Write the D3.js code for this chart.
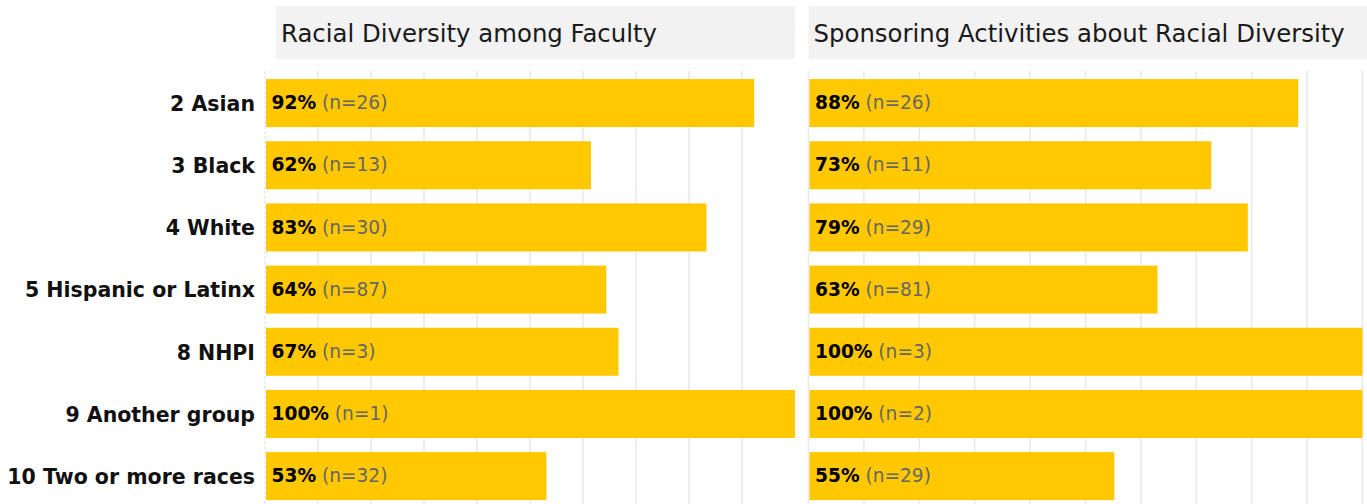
<!DOCTYPE html>
<html>
<head>
<meta charset="utf-8">
<script src="https://cdn.jsdelivr.net/npm/d3@7"></script>
<style>
  html, body { margin: 0; padding: 0; background: #fff; }
  svg { display: block; }
</style>
</head>
<body>
<svg id="chart" width="1367" height="504"></svg>
<script>
// ---- data ----
const categories = ["2 Asian", "3 Black", "4 White", "5 Hispanic or Latinx", "8 NHPI", "9 Another group", "10 Two or more races"];
const panelTitles = ["Racial Diversity among Faculty", "Sponsoring Activities about Racial Diversity"];
const facultyPct = [92.3, 61.5, 83.3, 64.4, 66.7, 100, 53.1];
const facultyN = [26, 13, 30, 87, 3, 1, 32];
const activitiesPct = [88.4, 72.7, 79.3, 63.0, 100, 100, 55.2];
const activitiesN = [26, 11, 29, 81, 3, 2, 29];
const tickValues = [0, 10, 20, 30, 40, 50, 60, 70, 80, 90, 100];

const panels = [
  { title: panelTitles[0], pct: facultyPct, n: facultyN, range: [265, 795], strip: [276, 795], gridMax: 90 },
  { title: panelTitles[1], pct: activitiesPct, n: activitiesN, range: [808.5, 1362.5], strip: [808.5, 1380], gridMax: 100 }
];

const svg = d3.select("#chart");
const y = d3.scaleBand().domain(categories).range([72, 507.2]).paddingInner(0.228).paddingOuter(0.114);
const FONT = "'DejaVu Sans', Verdana, sans-serif";

panels.forEach((p, pi) => {
  const x = d3.scaleLinear().domain([0, 100]).range(p.range);
  const g = svg.append("g");

  // strip header
  g.append("rect")
    .attr("x", p.strip[0]).attr("y", 6)
    .attr("width", p.strip[1] - p.strip[0]).attr("height", 53)
    .attr("fill", "#f2f2f2");
  g.append("text")
    .attr("x", p.strip[0] + 5).attr("y", 42)
    .attr("font-family", FONT).attr("font-size", 24.4)
    .attr("fill", "#1a1a1a")
    .text(p.title);

  // gridlines
  g.selectAll("line.grid")
    .data(tickValues.filter(t => t <= p.gridMax))
    .join("line")
    .attr("class", "grid")
    .attr("x1", d => x(d)).attr("x2", d => x(d))
    .attr("y1", 71).attr("y2", 504)
    .attr("stroke", (d) => (d === 0 && pi === 0) ? "#dcdcdc" : "#ebebeb")
    .attr("stroke-width", (d) => (d === 0 && pi === 0) ? 1 : 1.8)
    .attr("stroke-dasharray", (d) => (d === 0 && pi === 0) ? "3,2" : null);

  const rows = categories.map((c, i) => ({ c, v: p.pct[i], n: p.n[i] }));

  // bars
  g.selectAll("rect.bar")
    .data(rows)
    .join("rect")
    .attr("class", "bar")
    .attr("x", x(0) + 1)
    .attr("y", d => y(d.c))
    .attr("width", d => x(d.v) - x(0) - 1)
    .attr("height", y.bandwidth())
    .attr("fill", "#ffc800");

  // bar labels
  const lbl = g.selectAll("text.lbl")
    .data(rows)
    .join("text")
    .attr("class", "lbl")
    .attr("x", x(0) + 6.5)
    .attr("y", d => y(d.c) + y.bandwidth() / 2)
    .attr("dy", "0.33em")
    .attr("font-family", FONT)
    .attr("font-size", 18.6);
  lbl.append("tspan")
    .attr("font-weight", "bold").attr("fill", "#000")
    .text(d => Math.round(d.v) + "%");
  lbl.append("tspan")
    .attr("fill", "#666666")
    .text(d => "\u00a0(n=" + d.n + ")");
});

// row labels
svg.append("g").selectAll("text")
  .data(categories)
  .join("text")
  .attr("x", 255)
  .attr("y", d => y(d) + y.bandwidth() / 2)
  .attr("dy", "0.38em")
  .attr("text-anchor", "end")
  .attr("font-family", FONT)
  .attr("font-size", 20.5)
  .attr("font-weight", "bold")
  .attr("fill", "#111")
  .text(d => d);
</script>
</body>
</html>
